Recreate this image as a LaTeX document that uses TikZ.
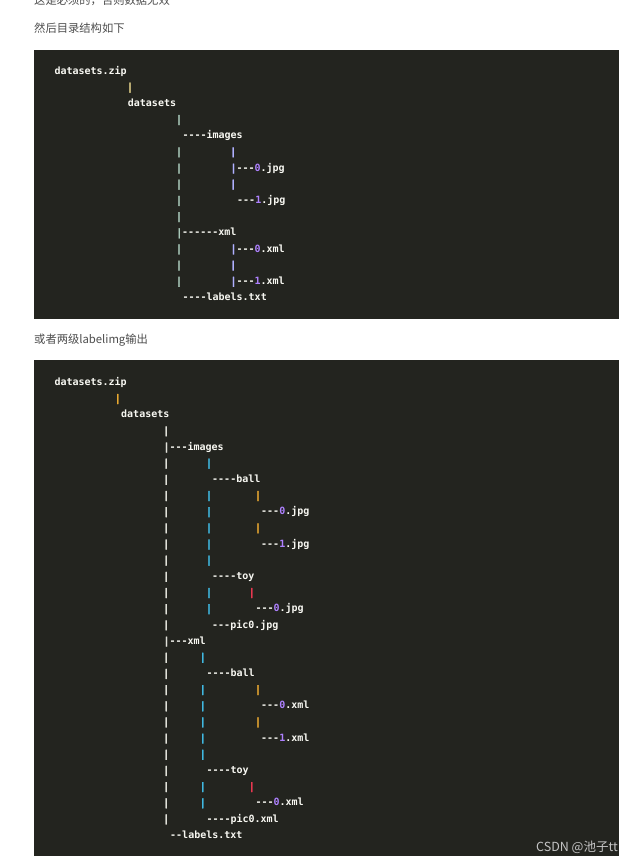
\documentclass[tikz,border=0pt]{standalone}
\usepackage{fontspec}
\newfontfamily\codefont{DejaVu Sans Mono Bold}
\newfontfamily\pipefont[FakeBold=1.6]{DejaVu Sans Mono Bold}
\newfontfamily\cjk{Noto Sans CJK SC}
\definecolor{bg}{HTML}{23241F}
\definecolor{fg}{HTML}{F8F8F2}
\definecolor{num}{HTML}{AE81FF}
\definecolor{pY}{HTML}{E0D088}
\definecolor{pT}{HTML}{A8C8B8}
\definecolor{pB}{HTML}{B0B0FF}
\definecolor{pO}{HTML}{E8A830}
\definecolor{pC}{HTML}{40B8E0}
\definecolor{pR}{HTML}{E83850}
\definecolor{pW}{HTML}{E0E0D8}
\definecolor{txt}{HTML}{4D4D4D}
\definecolor{wm}{HTML}{C4C4C4}
\newcommand\ya[1]{74.2+16.17*#1}
\newcommand\yb[1]{385.5+16.17*#1}
\newcommand\nm[1]{\textcolor{num}{#1}}
\newcommand\pp[1]{\textcolor{#1}{\pipefont|}}
\begin{document}
\begin{tikzpicture}[x=1pt,y=-1pt,
  code/.style={font=\codefont\fontsize{10}{12}\selectfont, text=fg, inner sep=0pt, anchor=base west},
  pipe/.style={code, font=\pipefont\fontsize{10}{12}\selectfont, anchor=base},
  captext/.style={font=\cjk\fontsize{11.3}{13}\selectfont, text=txt, inner sep=0pt, anchor=base west},
  block/.style={fill=bg, draw=none}]
\useasboundingbox (0,0) rectangle (640,864);
\fill[white] (0,0) rectangle (640,864);
% captions
\node[captext] (t0) at (34,5) {这是必须的，否则数据无效};
\node[captext] (t1) at (34,32.6) {然后目录结构如下};
\node[captext] (t2) at (34,343.3) {或者两级labelimg输出};
% blocks
\path[block] (34,50) rectangle (619,318.5);
\path[block] (34,360) rectangle (619,855.5);
% ---------- block 1
\node[code] (a0) at (54.3,{\ya{0}}) {datasets.zip};
\node[pipe,text=pY] (a1) at (130,{\ya{1}}) {|};
\node[code] (a2) at (127.7,{\ya{2}}) {datasets};
\node[pipe,text=pT] (a3) at (179,{\ya{3}}) {|};
\node[code] (a4) at (182.3,{\ya{4}}) {----images};
\node[pipe,text=pT] (a5a) at (179,{\ya{5}}) {|};
\node[pipe,text=pB] (a5b) at (233.3,{\ya{5}}) {|};
\node[pipe,text=pT] (a6a) at (179,{\ya{6}}) {|};
\node[code] (a6b) at (230.3,{\ya{6}}) {\pp{pB}---\nm{0}.jpg};
\node[pipe,text=pT] (a7a) at (179,{\ya{7}}) {|};
\node[pipe,text=pB] (a7b) at (233.3,{\ya{7}}) {|};
\node[pipe,text=pT] (a8a) at (179,{\ya{8}}) {|};
\node[code] (a8b) at (237,{\ya{8}}) {---\nm{1}.jpg};
\node[pipe,text=pT] (a9a) at (179,{\ya{9}}) {|};
\node[code] (a10) at (176,{\ya{10}}) {\pp{pT}------xml};
\node[pipe,text=pT] (a11a) at (179,{\ya{11}}) {|};
\node[code] (a11b) at (230.3,{\ya{11}}) {\pp{pB}---\nm{0}.xml};
\node[pipe,text=pT] (a12a) at (179,{\ya{12}}) {|};
\node[pipe,text=pB] (a12b) at (233.3,{\ya{12}}) {|};
\node[pipe,text=pT] (a13a) at (179,{\ya{13}}) {|};
\node[code] (a13b) at (230.3,{\ya{13}}) {\pp{pB}---\nm{1}.xml};
\node[code] (a14) at (182.3,{\ya{14}}) {----labels.txt};
% ---------- block 2
\node[code] (b0) at (54.3,{\yb{0}}) {datasets.zip};
\node[pipe,text=pO] (b1) at (117.7,{\yb{1}}) {|};
\node[code] (b2) at (121,{\yb{2}}) {datasets};
\node[pipe,text=pW] (b3) at (166.3,{\yb{3}}) {|};
\node[code] (b4) at (163.3,{\yb{4}}) {\pp{pW}---images};
\node[pipe,text=pW] (b5a) at (166.3,{\yb{5}}) {|};
\node[pipe,text=pC] (b5b) at (209,{\yb{5}}) {|};
\node[pipe,text=pW] (b6a) at (166.3,{\yb{6}}) {|};
\node[code] (b6b) at (212,{\yb{6}}) {----ball};
\node[pipe,text=pW] (b7a) at (166.3,{\yb{7}}) {|};
\node[pipe,text=pC] (b7b) at (209,{\yb{7}}) {|};
\node[pipe,text=pO] (b7c) at (258,{\yb{7}}) {|};
\node[pipe,text=pW] (b8a) at (166.3,{\yb{8}}) {|};
\node[pipe,text=pC] (b8b) at (209,{\yb{8}}) {|};
\node[code] (b8c) at (261,{\yb{8}}) {---\nm{0}.jpg};
\node[pipe,text=pW] (b9a) at (166.3,{\yb{9}}) {|};
\node[pipe,text=pC] (b9b) at (209,{\yb{9}}) {|};
\node[pipe,text=pO] (b9c) at (258,{\yb{9}}) {|};
\node[pipe,text=pW] (b10a) at (166.3,{\yb{10}}) {|};
\node[pipe,text=pC] (b10b) at (209,{\yb{10}}) {|};
\node[code] (b10c) at (261,{\yb{10}}) {---\nm{1}.jpg};
\node[pipe,text=pW] (b11a) at (166.3,{\yb{11}}) {|};
\node[pipe,text=pC] (b11b) at (209,{\yb{11}}) {|};
\node[pipe,text=pW] (b12a) at (166.3,{\yb{12}}) {|};
\node[code] (b12b) at (212,{\yb{12}}) {----toy};
\node[pipe,text=pW] (b13a) at (166.3,{\yb{13}}) {|};
\node[pipe,text=pC] (b13b) at (209,{\yb{13}}) {|};
\node[pipe,text=pR] (b13c) at (251.7,{\yb{13}}) {|};
\node[pipe,text=pW] (b14a) at (166.3,{\yb{14}}) {|};
\node[pipe,text=pC] (b14b) at (209,{\yb{14}}) {|};
\node[code] (b14c) at (255.3,{\yb{14}}) {---\nm{0}.jpg};
\node[pipe,text=pW] (b15a) at (166.3,{\yb{15}}) {|};
\node[code] (b15b) at (212,{\yb{15}}) {---pic0.jpg};
\node[code] (b16) at (163.3,{\yb{16}}) {\pp{pW}---xml};
\node[pipe,text=pW] (b17a) at (166.3,{\yb{17}}) {|};
\node[pipe,text=pC] (b17b) at (202.7,{\yb{17}}) {|};
\node[pipe,text=pW] (b18a) at (166.3,{\yb{18}}) {|};
\node[code] (b18b) at (206.3,{\yb{18}}) {----ball};
\node[pipe,text=pW] (b19a) at (166.3,{\yb{19}}) {|};
\node[pipe,text=pC] (b19b) at (202.7,{\yb{19}}) {|};
\node[pipe,text=pO] (b19c) at (258,{\yb{19}}) {|};
\node[pipe,text=pW] (b20a) at (166.3,{\yb{20}}) {|};
\node[pipe,text=pC] (b20b) at (202.7,{\yb{20}}) {|};
\node[code] (b20c) at (261,{\yb{20}}) {---\nm{0}.xml};
\node[pipe,text=pW] (b21a) at (166.3,{\yb{21}}) {|};
\node[pipe,text=pC] (b21b) at (202.7,{\yb{21}}) {|};
\node[pipe,text=pO] (b21c) at (258,{\yb{21}}) {|};
\node[pipe,text=pW] (b22a) at (166.3,{\yb{22}}) {|};
\node[pipe,text=pC] (b22b) at (202.7,{\yb{22}}) {|};
\node[code] (b22c) at (261,{\yb{22}}) {---\nm{1}.xml};
\node[pipe,text=pW] (b23a) at (166.3,{\yb{23}}) {|};
\node[pipe,text=pC] (b23b) at (202.7,{\yb{23}}) {|};
\node[pipe,text=pW] (b24a) at (166.3,{\yb{24}}) {|};
\node[code] (b24b) at (206.3,{\yb{24}}) {----toy};
\node[pipe,text=pW] (b25a) at (166.3,{\yb{25}}) {|};
\node[pipe,text=pC] (b25b) at (202.7,{\yb{25}}) {|};
\node[pipe,text=pR] (b25c) at (251.7,{\yb{25}}) {|};
\node[pipe,text=pW] (b26a) at (166.3,{\yb{26}}) {|};
\node[pipe,text=pC] (b26b) at (202.7,{\yb{26}}) {|};
\node[code] (b26c) at (255.3,{\yb{26}}) {---\nm{0}.xml};
\node[pipe,text=pW] (b27a) at (166.3,{\yb{27}}) {|};
\node[code] (b27b) at (206.3,{\yb{27}}) {----pic0.xml};
\node[code] (b28) at (170,{\yb{28}}) {--labels.txt};
% watermark
\node[font=\cjk\fontsize{12.5}{14}\selectfont, text=wm, inner sep=0pt, anchor=base west] (wm) at (536,851.5) {CSDN @池子tt};
\end{tikzpicture}
\end{document}
